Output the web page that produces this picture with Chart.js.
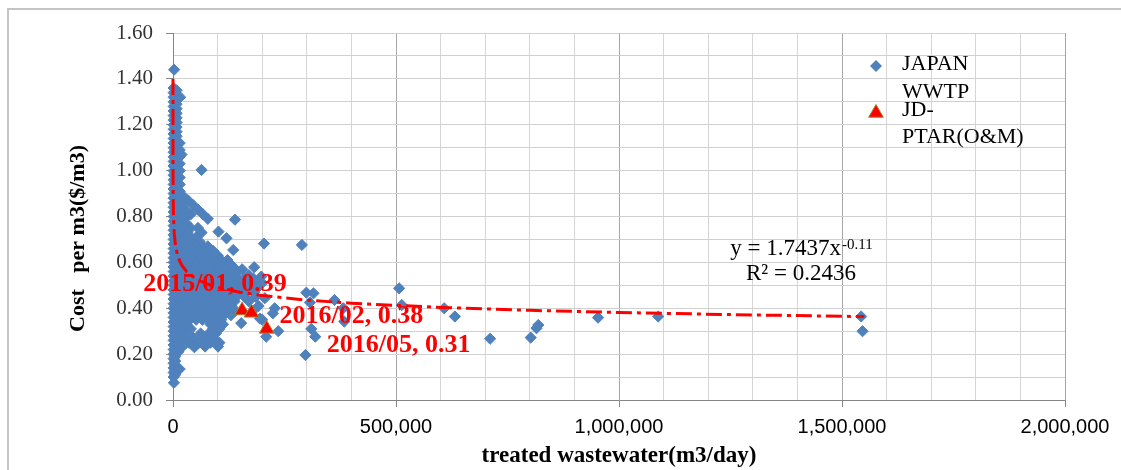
<!DOCTYPE html>
<html><head><meta charset="utf-8">
<script src="https://cdn.jsdelivr.net/npm/chart.js@4.4.1/dist/chart.umd.min.js"></script>
<style>html,body{margin:0;padding:0;background:#fff;}#wrap{width:1121px;height:470px;}</style>
</head><body><div id="wrap"><canvas id="c" width="1121" height="470"></canvas></div>
<script>
// ---------- data ----------
const xTickLabels = ['0','500,000','1,000,000','1,500,000','2,000,000'];
const yTickLabels = ['0.00','0.20','0.40','0.60','0.80','1.00','1.20','1.40','1.60'];
const seriesNames = ['JAPAN WWTP','JD-PTAR(O&M)'];
const legendLines = [['JAPAN','WWTP'],['JD-','PTAR(O&M)']];

// Japan WWTP points: columns near zero flow (flow, [costs])
const japanByFlow = [
  [1500, [0.10,0.12,0.14,0.16,0.18,0.20,0.22,0.24,0.26,0.28,0.30,0.32,0.34,0.36,0.38,0.40,0.42,0.44,0.46,0.48,0.50,0.52,0.54,0.56,0.58,0.60,0.62,0.64,0.66,0.68,0.70,0.72,0.74,0.76,0.78,0.80,0.82,0.84,0.86,0.88,0.90,0.92,0.94,0.96,0.98,1.00,1.02,1.04,1.06,1.08,1.10,1.12,1.14,1.16,1.18,1.20,1.22,1.24,1.26,1.28,1.30,1.32,1.34,1.36]],
  [5000, [0.11,0.13,0.15,0.17,0.19,0.21]],
  [8000, [0.23,0.25,0.27,0.29,0.31,0.33,0.35,0.37,0.39,0.41,0.43,0.45,0.47,0.49,0.51,0.53,0.55,0.57,0.59,0.61,0.63,0.65,0.67,0.69,0.71,0.73,0.75,0.77,0.79,0.81,0.83,0.85,0.87,0.89,0.91,0.93,0.95,0.97,0.99,1.01,1.03,1.05,1.07,1.09,1.11,1.13,1.15,1.17,1.19,1.21,1.23,1.25,1.27,1.29,1.31,1.33,1.35]],
  [15000, [0.91,0.94,0.97,1.00,1.03,1.06,1.09,1.12]]
];
// Japan WWTP points: dense cloud rows (cost, [flows])
const japanByCost = [
  [0.89, [16000,22000]],
  [0.87, [24000,34000]],
  [0.85, [16000,45000]],
  [0.83, [28000,56000]],
  [0.81, [16000,40000,67000]],
  [0.79, [26000,78000]],
  [0.77, [16000,30000]],
  [0.75, [24000,40000,56000]],
  [0.73, [16000,32000,64000]],
  [0.71, [24000,40000,52000]],
  [0.69, [16000,30000,44000,60000]],
  [0.67, [24000,38000,52000,66000,78000]],
  [0.65, [16000,30000,44000,58000,72000,90000]],
  [0.63, [24000,38000,52000,66000,80000,100000]],
  [0.61, [16000,30000,44000,58000,72000,86000,108000,122000]],
  [0.59, [24000,38000,52000,66000,80000,94000,115000,130000]],
  [0.57, [16000,30000,44000,58000,72000,86000,100000,120000,140000,155000]],
  [0.55, [24000,38000,52000,66000,80000,94000,108000,125000,140000]],
  [0.53, [16000,30000,44000,58000,72000,86000,100000,114000,128000,145000,160000,180000]],
  [0.51, [24000,38000,52000,66000,80000,94000,108000,122000,136000,150000,167000,185000,200000]],
  [0.49, [16000,30000,44000,58000,72000,86000,100000,114000,128000,142000,156000,172000,190000]],
  [0.47, [24000,38000,52000,66000,80000,94000,108000,122000,136000,150000,165000,182000]],
  [0.45, [16000,30000,44000,58000,72000,86000,100000,114000,128000,142000,160000,185000]],
  [0.43, [24000,38000,52000,66000,80000,94000,108000,122000,138000,170000]],
  [0.41, [16000,30000,44000,58000,72000,86000,100000,114000,130000,192000]],
  [0.39, [24000,38000,52000,66000,80000,94000,108000,122000,140000,180000]],
  [0.37, [16000,30000,44000,58000,72000,86000,100000,114000,130000]],
  [0.35, [24000,38000,52000,66000,80000,94000,108000,200000]],
  [0.33, [16000,30000,84000,98000,112000]],
  [0.31, [24000,40000,90000,104000]],
  [0.29, [16000,30000,62000,80000,96000]],
  [0.27, [24000,46000,70000,90000]],
  [0.25, [16000,36000,58000,84000,104000]],
  [0.233, [72000,101000]],
  [0.23, [20000,48000]]
];
// Japan WWTP points: individual (flow, cost)
const japanSingles = [
  [2000,0.075],[2500,1.44],[16000,1.32],[19000,1.07],[64000,1.003],[139000,0.786],
  [102000,0.734],[120000,0.705],[204000,0.682],[289000,0.676],[135000,0.654],
  [182000,0.579],[170000,0.545],[198000,0.538],[206000,0.444],[228000,0.40],
  [224000,0.378],[195000,0.355],[153000,0.335],[236000,0.30],[209000,0.276],
  [15000,0.135],[12000,0.21],[299000,0.468],[315000,0.465],[307000,0.425],
  [362000,0.436],[382000,0.40],[384000,0.342],[310000,0.31],[319000,0.276],
  [297000,0.196],[507000,0.487],[513000,0.414],[608000,0.40],[632000,0.364],
  [711000,0.267],[802000,0.272],[815000,0.313],[819000,0.327],[953000,0.359],
  [1088000,0.364],[1543000,0.364],[1546000,0.30]
];

const jdFlow = [155000,176000,210000];
const jdCost = [0.39,0.38,0.31];
const jdLabels = ['2015/01, 0.39','2016/02, 0.38','2016/05, 0.31'];

// power trendline y = 1.7437x^-0.11
const trendFlow = [7.4,10,20,50,100,200,500,1000,2000,3000,5000,7000,10000,15000,20000,30000,40000,60000,80000,100000,150000,200000,300000,400000,600000,800000,1000000,1250000,1550000];
const trendCost = [1.399,1.3535,1.2543,1.134,1.0507,0.9735,0.8802,0.8155,0.7557,0.7228,0.6832,0.6584,0.6332,0.6055,0.5866,0.561,0.5435,0.5198,0.5036,0.4914,0.4701,0.4553,0.4354,0.422,0.4035,0.3909,0.3815,0.3723,0.3636];
const trendEquation = 'y = 1.7437x';
const trendExponent = '-0.11';
const trendR2 = 'R² = 0.2436';

// ---------- build ----------
const japanPoints = [];
japanByFlow.forEach(([f, costs]) => costs.forEach(c => japanPoints.push({x: f, y: c})));
japanByCost.forEach(([c, flows]) => flows.forEach(f => japanPoints.push({x: f, y: c})));
japanSingles.forEach(([f, c]) => japanPoints.push({x: f, y: c}));
const jdPoints = jdFlow.map((f, i) => ({x: f, y: jdCost[i]}));
const trendPoints = trendFlow.map((f, i) => ({x: f, y: trendCost[i]}));

// ---------- styles ----------
const BLUE = '#4F81BD';
const RED = '#FF0000';
const TRI_BORDER = '#9C8A2E';
const labelOffsets = [[-99,-26],[28,3],[60,16]];

const framePlugin = {
  id: 'frame',
  beforeDraw(chart) {
    const ctx = chart.ctx;
    ctx.save();
    ctx.fillStyle = '#fff';
    ctx.fillRect(0, 0, chart.width, chart.height);
    ctx.strokeStyle = '#C4C4C4';
    ctx.lineWidth = 2;
    ctx.strokeRect(8, 9, chart.width + 40, chart.height + 40);
    ctx.restore();
  }
};

function diamond(ctx, x, y, r) {
  ctx.beginPath(); ctx.moveTo(x, y - r); ctx.lineTo(x + r, y); ctx.lineTo(x, y + r); ctx.lineTo(x - r, y); ctx.closePath();
}
function triangle(ctx, x, y, r) {
  ctx.beginPath(); ctx.moveTo(x, y - r); ctx.lineTo(x + r * 0.866, y + r / 2); ctx.lineTo(x - r * 0.866, y + r / 2); ctx.closePath();
}

const annotPlugin = {
  id: 'annot',
  afterDatasetsDraw(chart) {
    const ctx = chart.ctx;
    const a = chart.chartArea;
    ctx.save();
    // data labels
    const meta = chart.getDatasetMeta(1);
    ctx.font = 'bold 26px "Liberation Serif"';
    ctx.fillStyle = RED;
    ctx.textAlign = 'left';
    ctx.textBaseline = 'middle';
    meta.data.forEach((el, i) => {
      ctx.fillText(jdLabels[i], el.x + labelOffsets[i][0], el.y + labelOffsets[i][1]);
    });
    // trendline equation
    ctx.fillStyle = '#000';
    ctx.textBaseline = 'alphabetic';
    ctx.font = '23px "Liberation Serif"';
    const mw = ctx.measureText(trendEquation).width;
    ctx.font = '15px "Liberation Serif"';
    const sw = ctx.measureText(trendExponent).width;
    const cx = a.left + 628;
    const x0 = cx - (mw + sw) / 2;
    ctx.font = '23px "Liberation Serif"';
    ctx.fillText(trendEquation, x0, a.top + 222);
    ctx.font = '15px "Liberation Serif"';
    ctx.fillText(trendExponent, x0 + mw + 1, a.top + 216);
    ctx.font = '23px "Liberation Serif"';
    ctx.textAlign = 'center';
    ctx.fillText(trendR2, cx, a.top + 247);
    // legend
    ctx.textAlign = 'left';
    ctx.textBaseline = 'middle';
    ctx.font = '22px "Liberation Serif"';
    ctx.fillStyle = BLUE;
    diamond(ctx, 876, 66, 6); ctx.fill();
    ctx.fillStyle = RED;
    triangle(ctx, 876, 113, 8.5); ctx.fill();
    ctx.strokeStyle = TRI_BORDER; ctx.lineWidth = 1; ctx.stroke();
    ctx.fillStyle = '#000';
    ctx.fillText(legendLines[0][0], 902, 64.5);
    ctx.fillText(legendLines[0][1], 902, 92.5);
    ctx.fillText(legendLines[1][0], 902, 110.5);
    ctx.fillText(legendLines[1][1], 902, 137);
    ctx.restore();
  }
};

new Chart(document.getElementById('c'), {
  type: 'scatter',
  data: {
    datasets: [
      { label: 'trend', data: trendPoints, showLine: true, borderColor: RED, borderWidth: 3,
        borderDash: [16,5,4,5], pointRadius: 0, tension: 0, fill: false, order: 1, clip: false },
      { label: seriesNames[1], data: jdPoints, pointStyle: 'triangle', pointRadius: 8.5,
        backgroundColor: RED, borderColor: TRI_BORDER, borderWidth: 1, order: 2, clip: false },
      { label: seriesNames[0], data: japanPoints, pointStyle: 'rectRot', pointRadius: 5.6,
        backgroundColor: BLUE, borderColor: BLUE, borderWidth: 1, order: 3, clip: false }
    ]
  },
  options: {
    responsive: false,
    animation: false,
    devicePixelRatio: 1,
    events: [],
    layout: { padding: { top: 33, right: 56, left: 0, bottom: 0 } },
    plugins: { legend: { display: false }, tooltip: { enabled: false } },
    scales: {
      x: {
        type: 'linear', min: 0, max: 2000000,
        afterFit: (s) => { s.height = 70; },
        ticks: {
          stepSize: 100000, autoSkip: false, maxRotation: 0, minRotation: 0, padding: 8,
          font: { family: '"Liberation Sans", Arial, sans-serif', size: 20 }, color: '#000',
          callback: (v) => (v % 500000 === 0 ? xTickLabels[v / 500000] : '')
        },
        grid: {
          color: (c) => (c.tick && c.tick.value % 500000 === 0 ? '#A6A6A6' : '#D6D6D6'),
          tickColor: (c) => (c.tick && c.tick.value % 500000 === 0 ? '#868686' : 'rgba(0,0,0,0)'),
          tickLength: 7, lineWidth: 1
        },
        border: { color: '#868686', width: 1 },
        title: { display: true, text: 'treated wastewater(m3/day)', color: '#000',
          font: { family: '"Liberation Serif", serif', size: 23, weight: 'bold' }, padding: { top: 0, bottom: 0 } }
      },
      y: {
        type: 'linear', min: 0, max: 1.6,
        afterFit: (s) => { s.width = 173; },
        ticks: {
          stepSize: 0.1, autoSkip: false, padding: 13,
          font: { family: '"Liberation Serif", serif', size: 21 }, color: '#333',
          callback: (v) => { const k = Math.round(v * 10); return k % 2 === 0 ? yTickLabels[k / 2] : ''; }
        },
        grid: {
          color: '#D0D0D0',
          tickColor: (c) => (c.tick && Math.round(c.tick.value * 10) % 2 === 0 ? '#868686' : 'rgba(0,0,0,0)'),
          tickLength: 7, lineWidth: 1
        },
        border: { color: '#868686', width: 1 },
        title: { display: true, text: 'Cost   per m3($/m3)\u2003\u2003', color: '#000',
          font: { family: '"Liberation Serif", serif', size: 22, weight: 'bold' }, padding: { top: 65, bottom: 0 } }
      }
    }
  },
  plugins: [framePlugin, annotPlugin]
});
</script>
</body></html>
